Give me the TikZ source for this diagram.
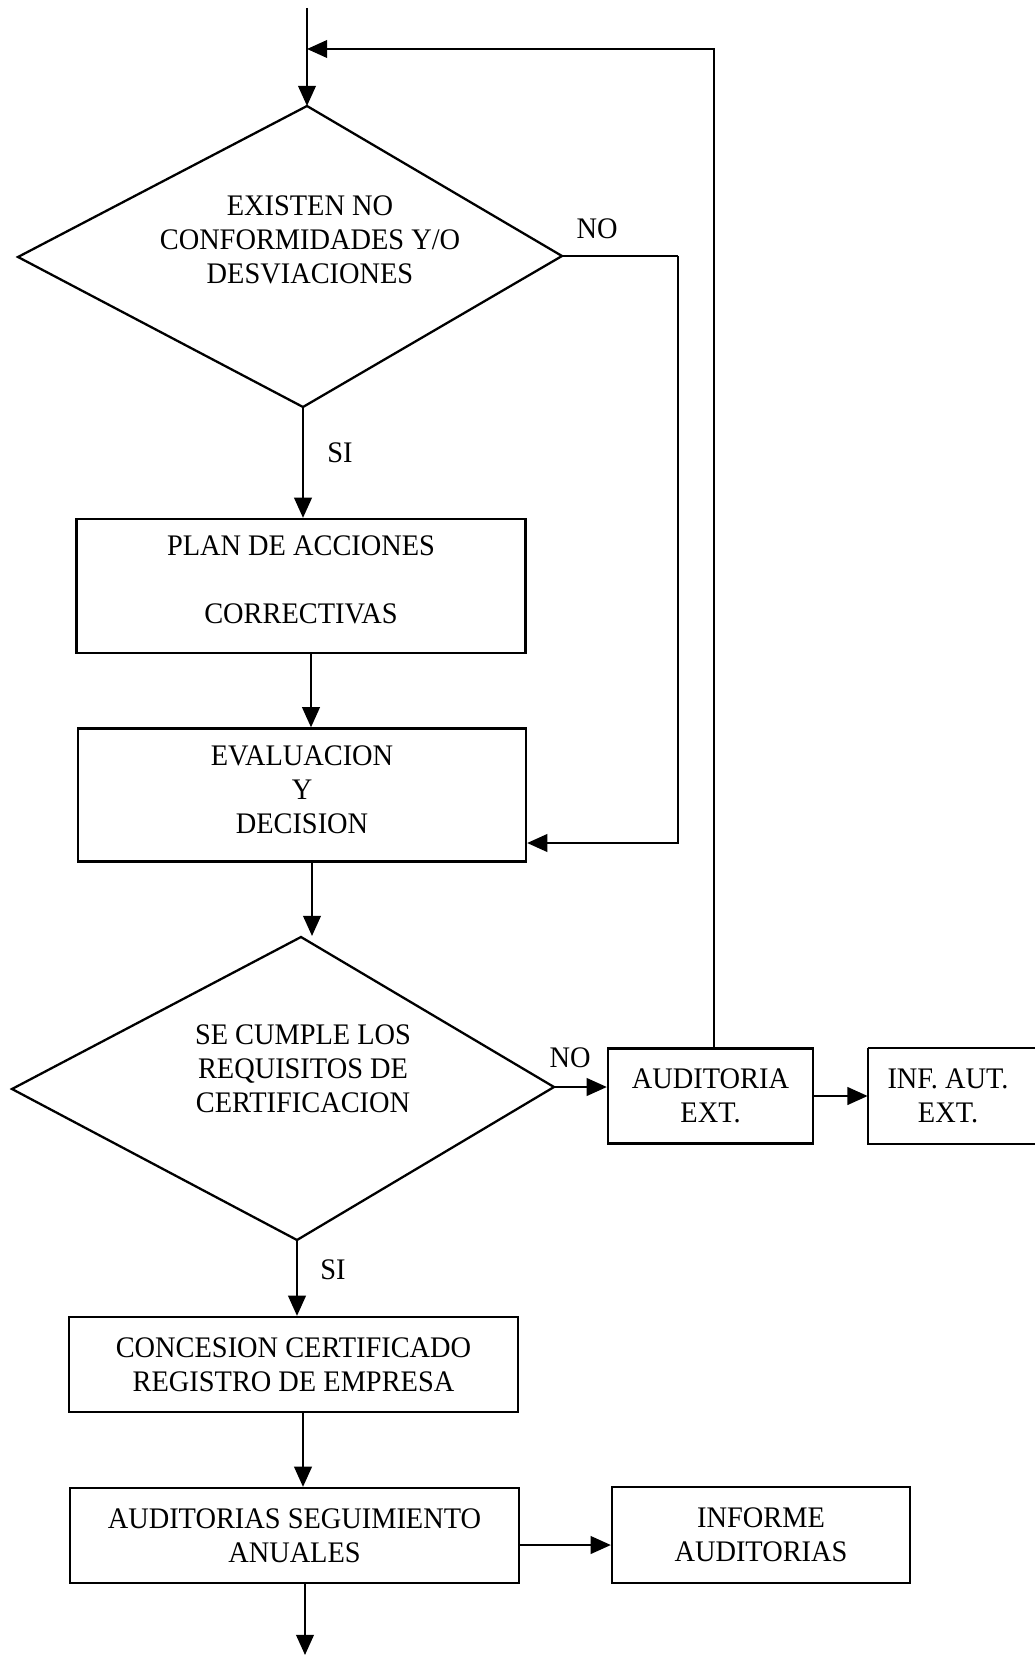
\documentclass[tikz,border=0pt]{standalone}
\usepackage{fontspec}
\setmainfont[FakeStretch=0.95]{Liberation Serif}
\usetikzlibrary{arrows.meta}

\tikzset{
  wh/.style 2 args={minimum width={#1*0.02cm}, minimum height={#2*0.02cm}},
  txt/.style={font=\fontsize{17}{19.3}\selectfont, inner sep=0pt, align=center},
  box/.style={txt, draw, line width=1.3pt},
  line/.style={line width=1.3pt},
  flow/.style={line width=1.3pt, -{Triangle[length=11.5pt,width=10pt]}},
  outline/.style={line width=1.3pt, line join=miter},
}

\begin{document}
\begin{tikzpicture}[x=0.02cm,y=-0.02cm]
\useasboundingbox (0,0) rectangle (1034,1655);

% first decision
\coordinate (d1t) at (307,106);
\coordinate (d1r) at (562,256);
\coordinate (d1b) at (303,407);
\coordinate (d1l) at (18,257);
\draw[outline] (d1t) -- (d1r) -- (d1b) -- (d1l) -- cycle;
\node[txt] (q1) at (310,240) {EXISTEN NO\\CONFORMIDADES Y/O\\DESVIACIONES};

% process boxes
\node[box, wh={449}{134}] (plan) at (301,586) {};
\node[txt] (plantxt) at (301,580) {PLAN DE ACCIONES\\[0.68cm]CORRECTIVAS};
\node[box, wh={448}{133}] (eval) at (302,795) {};
\node[txt] (evaltxt) at (302,790) {EVALUACION\\Y\\DECISION};

% second decision
\coordinate (d2t) at (301,937);
\coordinate (d2r) at (554,1087);
\coordinate (d2b) at (297,1240);
\coordinate (d2l) at (12,1089);
\draw[outline] (d2t) -- (d2r) -- (d2b) -- (d2l) -- cycle;
\node[txt] (q2) at (303,1069) {SE CUMPLE LOS\\REQUISITOS DE\\CERTIFICACION};

\node[box, wh={205}{95}] (aud) at (710.5,1096) {AUDITORIA\\EXT.};
\node[txt, wh={160}{95}] (inf) at (948,1096) {INF. AUT.\\EXT.};
\draw[line] (inf.north west) -- ++(200,0)
            (inf.north west) -- (inf.south west) -- ++(200,0);

\node[box, wh={449}{95}] (conc) at (293.5,1364.5) {CONCESION CERTIFICADO\\REGISTRO DE EMPRESA};
\node[box, wh={449}{95}] (segu) at (294.5,1535.5) {AUDITORIAS SEGUIMIENTO\\ANUALES};
\node[box, wh={298}{96}] (infa) at (761,1535) {INFORME\\AUDITORIAS};

% loose ends and corners
\coordinate (start) at (307,8);
\coordinate (loop) at (714,49);
\coordinate (nocorner) at (678,256);
\coordinate (e2) at (312,936);
\coordinate (finish) at (305,1655);

% connectors
\draw[flow] (start) -- (d1t);
\draw[flow] (aud.north -| loop) -- (loop) -- (loop -| start);
\draw[flow] (d1b) -- (plan.north -| d1b);
\draw[line] (d1r) -- (nocorner);
\draw[flow] (nocorner) -- (nocorner |- 0,843) -- (eval.east |- 0,843);
\draw[flow] (plan.south -| 311,0) -- (eval.north -| 311,0);
\draw[flow] (eval.south -| e2) -- (e2);
\draw[flow] (d2r) -- (aud.west |- d2r);
\draw[flow] (aud.east) -- (inf.west);
\draw[flow] (d2b) -- (conc.north -| d2b);
\draw[flow] (conc.south -| 303,0) -- (segu.north -| 303,0);
\draw[flow] (segu.east |- 0,1545) -- (infa.west |- 0,1545);
\draw[flow] (segu.south -| finish) -- (finish);

% branch labels
\node[txt] (no1) at (597,229) {NO};
\node[txt] (si1) at (340,453) {SI};
\node[txt] (no2) at (570,1058) {NO};
\node[txt] (si2) at (333,1270) {SI};
\end{tikzpicture}
\end{document}
